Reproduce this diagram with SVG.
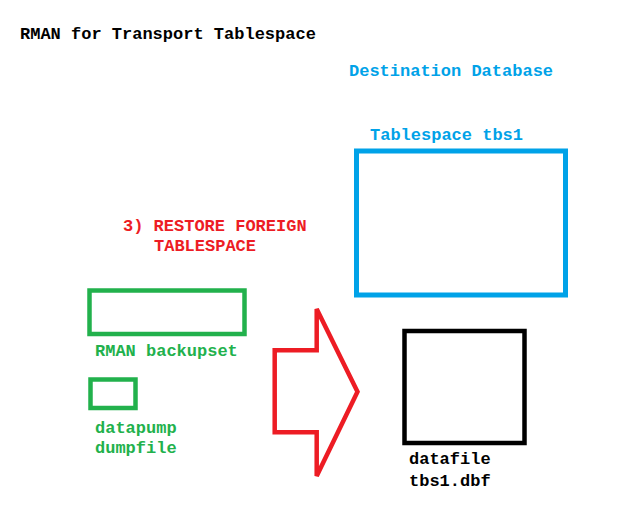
<svg xmlns="http://www.w3.org/2000/svg" width="620" height="531" viewBox="0 0 620 531">
<style>
text{font-family:"Liberation Mono","Courier New",monospace;font-weight:bold;font-size:17px}
.g{fill:#22B14C}.b{fill:#00A2E8}.r{fill:#ED1C24}.k{fill:#000}
.box{fill:#fff}
</style>
<rect width="620" height="531" fill="#fff"/>
<text id="title" class="k" x="20" y="39">RMAN for Transport Tablespace</text>
<g id="destination">
<text class="b" x="349" y="76">Destination Database</text>
</g>
<g id="tablespace">
<text class="b" x="370" y="140">Tablespace tbs1</text>
<rect class="box" x="356.5" y="151" width="209" height="144" stroke="#00A2E8" stroke-width="5"/>
</g>
<g id="datafile">
<rect class="box" x="404.5" y="331" width="120" height="112" stroke="#000" stroke-width="4.5"/>
<text class="k" x="409" y="464">datafile</text>
<text class="k" x="409" y="486">tbs1.dbf</text>
</g>
<g id="step">
<text class="r" x="123" y="231">3) RESTORE FOREIGN</text>
<text class="r" x="154" y="251">TABLESPACE</text>
</g>
<g id="backupset">
<rect class="box" x="89.5" y="290.5" width="155" height="43.5" stroke="#22B14C" stroke-width="4.5"/>
<text class="g" x="95" y="356">RMAN backupset</text>
</g>
<g id="dumpfile">
<rect class="box" x="90.5" y="379.5" width="45" height="28.5" stroke="#22B14C" stroke-width="4.5"/>
<text class="g" x="95" y="433">datapump</text>
<text class="g" x="95" y="453">dumpfile</text>
</g>
<g id="connectors">
<polygon points="274.7,350.3 316.7,350.3 316.7,309 357.5,391.7 316.7,476 316.7,432.3 274.7,432.3" fill="none" stroke="#ED1C24" stroke-width="4.5" stroke-linejoin="miter"/>
</g>
</svg>
